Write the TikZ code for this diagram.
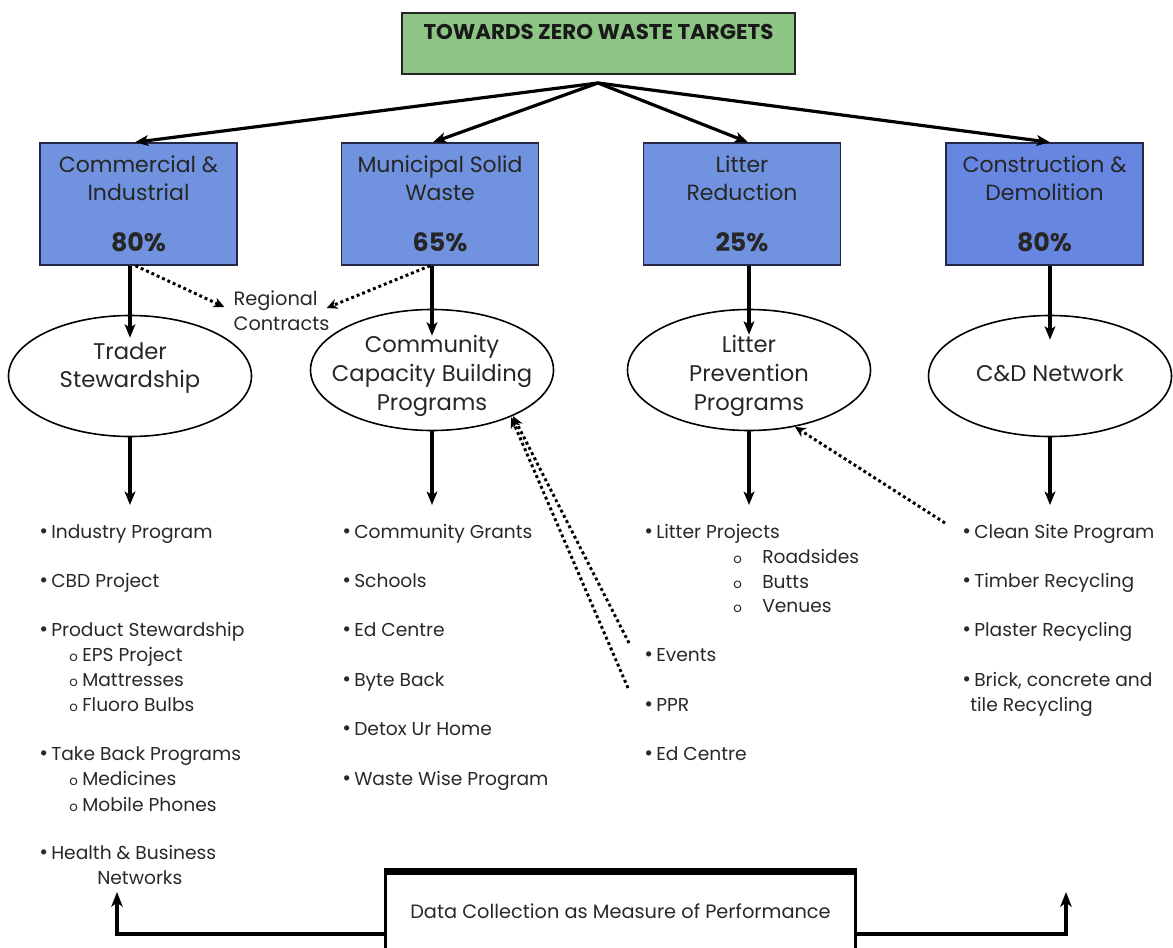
\documentclass[tikz,border=0pt]{standalone}
\usepackage{fontspec}
\setmainfont{Poppins}
\usetikzlibrary{arrows.meta,calc,shapes.geometric}
\definecolor{topgreen}{RGB}{141,197,133}
\definecolor{catblue}{RGB}{113,146,222}
\definecolor{catblueb}{RGB}{102,134,226}
\definecolor{inkgray}{RGB}{40,40,40}
\definecolor{edgenavy}{RGB}{35,40,70}
\newcommand{\itembul}{\makebox[9pt][l]{\fontsize{16}{16}\selectfont •}}
\newcommand{\subo}[1]{\makebox[#1][l]{\fontsize{10}{10}\selectfont o}}
\newcommand{\pctfont}{\bfseries\fontsize{19}{19}\selectfont}
\begin{document}
\begin{tikzpicture}[x=0.75pt,y=-0.75pt,
  titlebox/.style={draw=black!85, line width=1.1pt, fill=topgreen, minimum width=294.75pt,
    inner sep=0pt, text height=19.9pt, text depth=25.85pt, text=black!90,
    font=\bfseries\fontsize{16}{18}\selectfont},
  catbox/.style={draw=edgenavy, line width=1.1pt, fill=catblue, minimum width=147.75pt,
    minimum height=91.5pt, inner sep=0pt, align=center, text=black!85,
    font=\fontsize{16.5}{21}\selectfont},
  progell/.style={draw=black, line width=1.2pt, ellipse, minimum width=182.25pt,
    minimum height=90.75pt, inner sep=0pt},
  elltext/.style={inner sep=0pt, align=center, text=black!85,
    font=\fontsize{17}{21.5}\selectfont},
  listitem/.style={anchor=west, inner sep=0pt, text=inkgray, text height=10pt, text depth=3.5pt,
    font=\fontsize{14}{16}\selectfont},
  databox/.style={draw=black, line width=2.3pt, minimum width=352.5pt, minimum height=57.75pt,
    inner sep=0pt, text=inkgray, font=\fontsize{14.5}{16}\selectfont},
  solidarrow/.style={line width=2.4pt, -{Stealth[length=10pt,width=8pt,inset=2.5pt]}},
  dotarrow/.style={line width=2.2pt, dash pattern=on 2.2pt off 2.2pt,
    -{Stealth[length=8pt,width=7.5pt,inset=2.5pt]}},
  feedback/.style={line width=2.8pt, -{Stealth[length=11pt,width=8.5pt,inset=3pt]}}
]
\useasboundingbox (0,0) rectangle (1173,948);

% goal
\node[titlebox] (goal) at (598.5,43.5) {TOWARDS ZERO WASTE TARGETS};
\coordinate (hub) at (598,83);

% categories
\node[catbox] (b1) at (138.5,204) {Commercial \&\\Industrial\\[17pt]{\pctfont 80\%}};
\node[catbox] (b2) at (440,204) {Municipal Solid\\Waste\\[17pt]{\pctfont 65\%}};
\node[catbox] (b3) at (742,204) {Litter\\Reduction\\[17pt]{\pctfont 25\%}};
\node[catbox, fill=catblueb] (b4) at (1044.5,204) {Construction \&\\Demolition\\[17pt]{\pctfont 80\%}};

\draw[solidarrow] (hub) -- ($(b1.north)+(-3.5,0)$);
\draw[solidarrow] (hub) -- ($(b2.north)+(-7,0)$);
\draw[solidarrow] (hub) -- ($(b3.north)+(6,0)$);
\draw[solidarrow] (hub) -- ($(b4.north)+(5.5,0)$);

% programs
\node[progell] (e1) at (130,376) {};
\node[progell] (e2) at (432,370) {};
\node[progell] (e3) at (749,370) {};
\node[progell] (e4) at (1050,376) {};
\node[elltext] (e1t) at (130,368) {Trader\\Stewardship};
\node[elltext] (e2t) at (432,376) {Community\\Capacity Building\\Programs};
\node[elltext] (e3t) at (749,376) {Litter\\Prevention\\Programs};
\node[elltext] (e4t) at (1050,373) {C\&D Network};

\draw[solidarrow] (b1.south -| e1) -- ($(e1.north)+(0,23)$);
\draw[solidarrow] (b2.south -| e2) -- ($(e2.north)+(0,27)$);
\draw[solidarrow] (b3.south -| e3) -- ($(e3.north)+(0,26)$);
\draw[solidarrow] (b4.south -| e4) -- ($(e4.north)+(0,25)$);

% regional contracts
\node[align=left, inner sep=0pt, text=inkgray, font=\fontsize{14.5}{18.5}\selectfont] (rc) at (281.5,311) {Regional\\Contracts};
\draw[dotarrow] ($(b1.south)+(-3,0)$) -- ($(rc.west)+(-9,-4)$);
\draw[dotarrow] ($(b2.south)+(-10,0)$) -- ($(rc.east)+(-3,-3)$);

% lists down arrows
\coordinate (t1) at (130,505);
\coordinate (t2) at (432,505);
\coordinate (t3) at (749,505);
\coordinate (t4) at (1050,505);
\draw[solidarrow] (e1.south) -- (t1);
\draw[solidarrow] (e2.south) -- (t2);
\draw[solidarrow] (e3.south) -- (t3);
\draw[solidarrow] (e4.south) -- (t4);

% column 1
\node[listitem] (c1a) at (39,534) {\itembul Industry Program};
\node[listitem] (c1b) at (39,583) {\itembul CBD Project};
\node[listitem] (c1c) at (39,632) {\itembul Product Stewardship};
\node[listitem] (c1c1) at (69,657) {\subo{9.75pt}EPS Project};
\node[listitem] (c1c2) at (69,682) {\subo{9.75pt}Mattresses};
\node[listitem] (c1c3) at (69,707) {\subo{9.75pt}Fluoro Bulbs};
\node[listitem] (c1d) at (39,756) {\itembul Take Back Programs};
\node[listitem] (c1d1) at (69,781) {\subo{9.75pt}Medicines};
\node[listitem] (c1d2) at (69,807) {\subo{9.75pt}Mobile Phones};
\node[listitem] (c1e) at (39,855) {\itembul Health \& Business};
\node[listitem] (c1e2) at (97,880) {Networks};

% column 2
\node[listitem] (c2a) at (342,534) {\itembul Community Grants};
\node[listitem] (c2b) at (342,583) {\itembul Schools};
\node[listitem] (c2c) at (342,632) {\itembul Ed Centre};
\node[listitem] (c2d) at (342,682) {\itembul Byte Back};
\node[listitem] (c2e) at (342,731) {\itembul Detox Ur Home};
\node[listitem] (c2f) at (342,781) {\itembul Waste Wise Program};

% column 3
\node[listitem] (c3a) at (644,534) {\itembul Litter Projects};
\node[listitem] (c3a1) at (733,559) {\subo{21.75pt}Roadsides};
\node[listitem] (c3a2) at (733,584) {\subo{21.75pt}Butts};
\node[listitem] (c3a3) at (733,608) {\subo{21.75pt}Venues};
\node[listitem] (c3b) at (644,657) {\itembul Events};
\node[listitem] (c3c) at (644,707) {\itembul PPR};
\node[listitem] (c3d) at (644,756) {\itembul Ed Centre};

% column 4
\node[listitem] (c4a) at (962,534) {\itembul Clean Site Program};
\node[listitem] (c4b) at (962,583) {\itembul Timber Recycling};
\node[listitem] (c4c) at (962,632) {\itembul Plaster Recycling};
\node[listitem] (c4d) at (962,682) {\itembul Brick, concrete and};
\node[listitem] (c4d2) at (970,707) {tile Recycling};

% dotted feedback to programs
\draw[dotarrow] ($(c3b.west)+(-15,-14)$) -- ($(e2.-30)+(1,0)$);
\draw[dotarrow] ($(c3c.west)+(-16,-19)$) -- ($(e2.-30)+(-1,1)$);
\draw[dotarrow] ($(c4a.west)+(-17,-11)$) -- (e3.-51);

% data collection
\node[databox] (dc) at (620.5,911.5) {Data Collection as Measure of Performance};
\draw[line width=4.5pt] (dc.north west) -- (dc.north east);
\coordinate (fl) at (117,892);
\coordinate (fr) at (1066,892);
\draw[feedback] ([yshift=-16.9pt]dc.west) -| (fl);
\draw[feedback] ([yshift=-16.9pt]dc.east) -| (fr);
\end{tikzpicture}
\end{document}
